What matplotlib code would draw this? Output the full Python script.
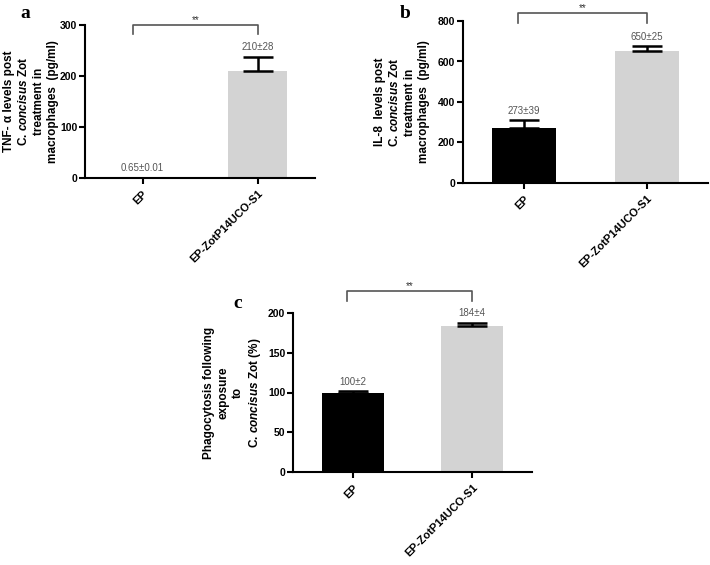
import numpy as np
import matplotlib
matplotlib.use("Agg")
import matplotlib.pyplot as plt

plt.rcParams['font.family'] = ['Liberation Sans', 'DejaVu Sans']
plt.rcParams['mathtext.fontset'] = 'custom'
plt.rcParams['mathtext.rm'] = 'Liberation Sans:bold'
plt.rcParams['mathtext.it'] = 'Liberation Sans:italic:bold'
plt.rcParams['mathtext.bf'] = 'Liberation Sans:bold'

## DATA -----------------------------
groups = ['EP', 'EP-ZotP14UCO-S1']

tnf_mean = [0.65, 210]
tnf_err = [0.01, 28]
tnf_text = ['0.65±0.01', '210±28']

il8_mean = [273, 650]
il8_err = [39, 25]
il8_text = ['273±39', '650±25']

phago_mean = [100, 184]
phago_err = [2, 4]
phago_text = ['100±2', '184±4']

bar_colors = ['black', '#d3d3d3']

W, H = 710, 565
fig = plt.figure(figsize=(W / 100, H / 100), dpi=100)


def px_axes(left, top, right, bottom):
    return fig.add_axes([left / W, 1 - bottom / H, (right - left) / W, (bottom - top) / H])


def panel(ax, means, errs, texts, ymax, yticks, ylabel, lab_x, br_left, br_top, br_drop):
    x = np.arange(len(means))
    ax.bar(x, means, width=0.52, color=bar_colors, zorder=2)
    # GraphPad style: error bars pointing up only
    ax.errorbar(x, means, yerr=[np.zeros(len(errs)), errs], fmt='none',
                ecolor='black', elinewidth=1.8, capsize=11, capthick=1.8, zorder=3)
    for xi, m, e, t in zip(x, means, errs, texts):
        ax.annotate(t, (xi, m + e), xytext=(0, 3), textcoords='offset points',
                    ha='center', va='bottom', fontsize=7, color='#555555')
    ax.set_xlim(-0.5, 1.5)
    ax.set_ylim(0, ymax)
    ax.set_yticks(yticks)
    ax.set_xticks(x)
    ax.set_xticklabels(groups, rotation=45, ha='right', rotation_mode='anchor',
                       fontsize=8, fontweight='bold')
    for lbl in ax.get_yticklabels():
        lbl.set_fontsize(7.5)
        lbl.set_fontweight('bold')
    for s in ['top', 'right']:
        ax.spines[s].set_visible(False)
    for s in ['left', 'bottom']:
        ax.spines[s].set_linewidth(1.5)
    ax.tick_params(width=1.5, length=4)
    ax.tick_params(axis='y', pad=1.5)
    # y label placed by hand, centred on the axes height
    pos = ax.get_position()
    fig.text(lab_x / W, pos.y0 + pos.height / 2, ylabel, rotation=90, ha='center',
             va='center', multialignment='center', fontsize=8.5, fontweight='bold',
             linespacing=1.25)
    # significance bracket
    ax.plot([br_left, br_left, 1.0, 1.0], [br_drop, br_top, br_top, br_drop],
            color='#555555', lw=1.2, clip_on=False)
    ax.text((br_left + 1.0) / 2, br_top, '**', ha='center', va='bottom',
            fontsize=7, color='#333333', clip_on=False)


ax_a = px_axes(85, 25, 315, 178)
panel(ax_a, tnf_mean, tnf_err, tnf_text, 300, [0, 100, 200, 300],
      'TNF- α levels post\nC. $\\mathit{concisus}$ Zot\ntreatment in\nmacrophages  (pg/ml)',
      31, -0.08, 300, 282)

ax_b = px_axes(463, 21, 708, 183)
panel(ax_b, il8_mean, il8_err, il8_text, 800, [0, 200, 400, 600, 800],
      'IL-8  levels post\nC. $\\mathit{concisus}$ Zot\ntreatment in\nmacrophages  (pg/ml)',
      402, -0.05, 840, 790)

ax_c = px_axes(293, 313, 532, 472)
panel(ax_c, phago_mean, phago_err, phago_text, 200, [0, 50, 100, 150, 200],
      'Phagocytosis following\nexposure\nto\nC. $\\mathit{concisus}$ Zot (%)',
      233, -0.05, 228, 215)

# panel letters
fig.text(20 / W, 1 - 18 / H, 'a', fontsize=14, fontweight='bold', family='Liberation Serif')
fig.text(400 / W, 1 - 18 / H, 'b', fontsize=14, fontweight='bold', family='Liberation Serif')
fig.text(233 / W, 1 - 308 / H, 'c', fontsize=14, fontweight='bold', family='Liberation Serif')

fig.savefig('out.png', dpi=100)
